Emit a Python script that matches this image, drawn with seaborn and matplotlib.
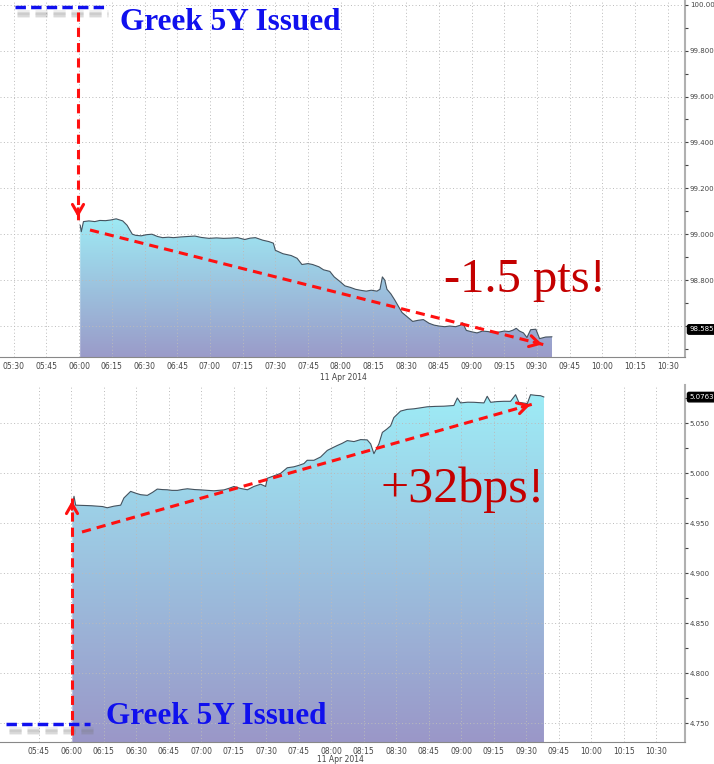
import numpy as np
import pandas as pd
import matplotlib
matplotlib.use("Agg")
import matplotlib.pyplot as plt
import matplotlib.dates as mdates
from matplotlib.colors import LinearSegmentedColormap
from matplotlib.ticker import FixedLocator, AutoMinorLocator, FixedFormatter
from matplotlib.lines import Line2D
from matplotlib.patches import FancyArrowPatch
import seaborn as sns

sns.set_style("white")
plt.rcParams["font.family"] = ["DejaVu Sans Condensed", "Liberation Sans Narrow", "DejaVu Sans"]

# --- dados: minutos apos 06:00 (11 Apr 2014) ---
price_min = [0.5, 1.0, 2.0, 4.5, 7.2, 9.5, 12.1, 14.5, 17.0, 20.0, 22.0, 24.4, 26.0, 28.5,
             31.0, 33.4, 36.0, 38.3, 41.0, 43.3, 46.5, 49.8, 53.1, 56.0, 59.6, 63.0, 66.2,
             69.5, 72.7, 76.0, 78.5, 80.9, 84.2, 87.0, 89.1, 90.0, 93.5, 97.3, 100.0, 102.2,
             105.0, 107.1, 110.0, 112.1, 115.0, 117.0, 119.5, 121.9, 124.5, 126.8, 129.5,
             131.7, 134.0, 136.6, 138.0, 139.1, 140.2, 141.2, 143.0, 144.8, 146.5, 148.1,
             150.5, 153.0, 155.5, 157.9, 160.5, 162.8, 165.0, 167.7, 170.0, 172.7, 175.0,
             175.9, 177.6, 180.0, 182.5, 185.0, 187.4, 190.0, 192.3, 195.0, 197.2, 199.0,
             200.5, 202.0, 203.8, 205.4, 207.1, 209.5, 211.2, 214.0, 216.9]
price_val = [99.040, 99.011, 99.055, 99.058, 99.055, 99.060, 99.059, 99.062, 99.067, 99.058,
             99.039, 99.000, 98.995, 98.993, 98.998, 99.000, 98.990, 98.985, 98.987, 98.985,
             98.988, 98.990, 98.992, 98.986, 98.982, 98.984, 98.982, 98.983, 98.985, 98.977,
             98.983, 98.985, 98.974, 98.968, 98.961, 98.930, 98.915, 98.907, 98.895, 98.868,
             98.872, 98.868, 98.858, 98.845, 98.838, 98.814, 98.795, 98.775, 98.768, 98.760,
             98.755, 98.752, 98.756, 98.752, 98.760, 98.814, 98.800, 98.760, 98.740, 98.713,
             98.685, 98.659, 98.640, 98.620, 98.625, 98.628, 98.612, 98.604, 98.600, 98.597,
             98.600, 98.597, 98.604, 98.614, 98.581, 98.575, 98.570, 98.578, 98.576, 98.572,
             98.573, 98.578, 98.576, 98.582, 98.590, 98.578, 98.570, 98.550, 98.584, 98.586,
             98.545, 98.552, 98.553]

yield_min = [0.49, 1.26, 2.03, 4.5, 7.4, 9.5, 12.0, 14.5, 16.6, 19.7, 22.8, 24.3, 27.4, 30.0,
             32.0, 35.1, 37.5, 39.7, 42.0, 44.3, 46.5, 49.0, 51.5, 53.6, 57.0, 59.7, 63.0,
             65.9, 70.5, 73.0, 75.1, 78.0, 81.3, 84.3, 87.4, 89.7, 90.5, 93.5, 96.6, 99.7,
             102.8, 105.0, 107.4, 108.9, 112.0, 115.1, 118.2, 120.5, 122.8, 125.0, 127.4,
             130.5, 133.6, 136.6, 138.2, 139.7, 142.0, 143.6, 145.5, 147.4, 148.9, 152.0,
             155.0, 158.2, 161.0, 164.3, 168.0, 172.0, 176.6, 178.2, 179.7, 183.0, 185.9,
             188.0, 190.5, 192.0, 193.6, 196.5, 199.7, 202.8, 205.1, 206.6, 210.5, 212.0,
             214.5, 216.6, 218.2]
yield_val = [4.9672, 4.9771, 4.9682, 4.9680, 4.9678, 4.9676, 4.9672, 4.9668, 4.9656, 4.9672,
             4.9682, 4.9754, 4.9820, 4.9800, 4.9787, 4.9780, 4.9810, 4.9843, 4.9838, 4.9836,
             4.9830, 4.9830, 4.9840, 4.9846, 4.9838, 4.9835, 4.9830, 4.9826, 4.9835, 4.9852,
             4.9869, 4.9850, 4.9836, 4.9869, 4.9892, 4.9869, 4.9951, 4.9975, 5.0000, 5.0056,
             5.0066, 5.0080, 5.0098, 5.0131, 5.0131, 5.0164, 5.0230, 5.0255, 5.0279, 5.0300,
             5.0328, 5.0318, 5.0338, 5.0335, 5.0295, 5.0197, 5.0295, 5.0410, 5.0440, 5.0475,
             5.0558, 5.0623, 5.0640, 5.0646, 5.0655, 5.0666, 5.0670, 5.0672, 5.0679, 5.0754,
             5.0705, 5.0712, 5.0711, 5.0708, 5.0705, 5.0771, 5.0711, 5.0718, 5.0721, 5.0721,
             5.0787, 5.0711, 5.0698, 5.0787, 5.0780, 5.0777, 5.0764]

# rotulos do eixo y (o de 98.600 fica coberto pela etiqueta do ultimo valor)
price_ticks = [98.6, 98.8, 99.0, 99.2, 99.4, 99.6, 99.8, 100.0]
price_tick_labels = ["", "98.800", "99.000", "99.200", "99.400", "99.600", "99.800", "100.000"]
yield_ticks = [4.75, 4.80, 4.85, 4.90, 4.95, 5.00, 5.05]
yield_tick_labels = ["4.750", "4.800", "4.850", "4.900", "4.950", "5.000", "5.050"]
price_last, price_tag = 98.585, "98.585"
yield_last, yield_tag = 5.0763, "5.0763"
date_label = "11 Apr 2014"
issue_label = "Greek 5Y Issued"
price_note = "-1.5 pts!"
yield_note = "+32bps!"

base = pd.Timestamp("2014-04-11 06:00")
df_price = pd.DataFrame({"time": base + pd.to_timedelta(price_min, unit="m"), "value": price_val})
df_yield = pd.DataFrame({"time": base + pd.to_timedelta(yield_min, unit="m"), "value": yield_val})

W, H = 714, 764
fig = plt.figure(figsize=(W / 100, H / 100), dpi=100)


def px(x, y):
    return (x / W, 1 - y / H)


def gradient_fill(ax, df, ymin, top_col, bot_col):
    xn = mdates.date2num(df["time"])
    poly = ax.fill_between(xn, df["value"], ymin, color="none", lw=0)
    cmap = LinearSegmentedColormap.from_list("g", [bot_col, top_col])
    grad = np.linspace(0, 1, 256).reshape(-1, 1)
    im = ax.imshow(grad, aspect="auto", cmap=cmap, origin="lower",
                   extent=[xn.min(), xn.max(), ymin, df["value"].max()], zorder=1)
    im.set_clip_path(poly.get_paths()[0], transform=ax.transData)


def style_axis(ax, xlim, ylim, xticks, yticks, ylabels):
    ax.set_xlim(mdates.date2num(pd.Timestamp(xlim[0])), mdates.date2num(pd.Timestamp(xlim[1])))
    ax.set_ylim(*ylim)
    ax.xaxis.set_major_locator(FixedLocator(mdates.date2num(xticks)))
    ax.xaxis.set_major_formatter(mdates.DateFormatter("%H:%M"))
    ax.yaxis.tick_right()
    ax.yaxis.set_major_locator(FixedLocator(yticks))
    ax.yaxis.set_major_formatter(FixedFormatter(ylabels))
    ax.yaxis.set_minor_locator(AutoMinorLocator(2))
    ax.tick_params(axis="x", labelsize=5.5, colors="#444444", length=2.5, width=0.8, pad=1)
    ax.tick_params(axis="y", labelsize=5, colors="#444444", length=2.5, width=0.8, pad=1)
    ax.tick_params(axis="y", which="minor", length=2, width=0.8, colors="#444444")
    ax.set_xlabel("")
    ax.set_ylabel("")
    ax.grid(True, which="major", color="#bbbbbb", linestyle=(0, (1, 2.5)), lw=0.7, zorder=3)
    ax.set_axisbelow(False)
    for s in ["top", "left"]:
        ax.spines[s].set_visible(False)
    ax.spines["right"].set_color("#b0b0b0")
    ax.spines["right"].set_linewidth(1.5)
    ax.spines["bottom"].set_color("#888888")
    ax.spines["bottom"].set_linewidth(0.8)


def value_tag(ax, val, text):
    ax.annotate(text, xy=(1.0, val), xycoords=("axes fraction", "data"),
                xytext=(3, 0), textcoords="offset points", va="center", ha="left",
                fontsize=5, color="white",
                bbox=dict(boxstyle="round,pad=0.25", fc="black", ec="black"), annotation_clip=False)


# --- painel superior: preco ---
ax1 = fig.add_axes([0, 1 - 357 / H, 685 / W, 357 / H])
ymin1 = 98.465
gradient_fill(ax1, df_price, ymin1, "#9eeaf4", "#9a9bc9")
sns.lineplot(data=df_price, x=mdates.date2num(df_price["time"]), y="value", ax=ax1,
             color="#44525e", lw=0.8, zorder=4)
ticks1 = pd.date_range("2014-04-11 05:30", "2014-04-11 10:30", freq="15min")
style_axis(ax1, ("2014-04-11 05:23:43", "2014-04-11 10:37:54"), (ymin1, 100.0205), ticks1,
           price_ticks, price_tick_labels)
value_tag(ax1, price_last, price_tag)

# --- painel inferior: yield ---
ax2 = fig.add_axes([0, 1 - 742 / H, 685 / W, 357 / H])
ymin2 = 4.7313
gradient_fill(ax2, df_yield, ymin2, "#9eecf6", "#9a97c8")
sns.lineplot(data=df_yield, x=mdates.date2num(df_yield["time"]), y="value", ax=ax2,
             color="#44525e", lw=0.8, zorder=4)
ticks2 = pd.date_range("2014-04-11 05:45", "2014-04-11 10:30", freq="15min")
style_axis(ax2, ("2014-04-11 05:27:06", "2014-04-11 10:43:18"), (ymin2, 5.0884), ticks2,
           yield_ticks, yield_tick_labels)
value_tag(ax2, yield_last, yield_tag)

# data sob cada eixo x
fig.text(*px(343, 377), date_label, fontsize=5.5, color="#444444", ha="center", va="center")
fig.text(*px(340, 759), date_label, fontsize=5.5, color="#444444", ha="center", va="center")

# --- anotacoes ---
red = "#ff1010"
dark_red = "#c40000"
blue = "#1010ee"


def dashed(p0, p1, color, lw, dash, alpha=1.0):
    (x0, y0), (x1, y1) = px(*p0), px(*p1)
    fig.add_artist(Line2D([x0, x1], [y0, y1], transform=fig.transFigure, color=color,
                          lw=lw, linestyle=(0, dash), alpha=alpha, zorder=10))


def red_arrow(p0, p1):
    dashed(p0, p1, red, 2.2, (3, 2))
    v = np.array(p1, float) - np.array(p0, float)
    v /= np.linalg.norm(v)
    start = np.array(p1) - v * 14
    fig.add_artist(FancyArrowPatch(
        px(*start), px(*p1), transform=fig.transFigure,
        arrowstyle="->,head_length=7,head_width=4", lw=2.2, color=red, zorder=11))


# linhas azuis tracejadas com sombra difusa
for off, a in [(5, 0.12), (6.5, 0.18), (8, 0.12)]:
    dashed((17, 7 + off), (108, 7 + off), "#777777", 3.5, (2.5, 1.2), alpha=a)
    dashed((9, 724 + off), (93, 724 + off), "#777777", 3.5, (2.5, 1.2), alpha=a)
dashed((15, 7), (105, 7), blue, 2.5, (3, 1.5))
dashed((6, 724), (90, 724), blue, 2.5, (3, 1.5))
fig.text(*px(120, 22), issue_label, fontsize=22.5, fontweight="bold", color=blue,
         family="Liberation Serif", va="center", ha="left")
fig.text(*px(106, 717), issue_label, fontsize=22.5, fontweight="bold", color=blue,
         family="Liberation Serif", va="center", ha="left")

red_arrow((78, 12), (78, 220))
red_arrow((90, 230), (545, 345))
red_arrow((72, 735), (72, 498))
red_arrow((82, 532), (533, 404))

fig.text(*px(606, 280), price_note, fontsize=35, color=dark_red,
         family="Liberation Serif", va="center", ha="right")
fig.text(*px(545, 490), yield_note, fontsize=36, color=dark_red,
         family="Liberation Serif", va="center", ha="right")

plt.savefig("out.png", dpi=100)
plt.close()
